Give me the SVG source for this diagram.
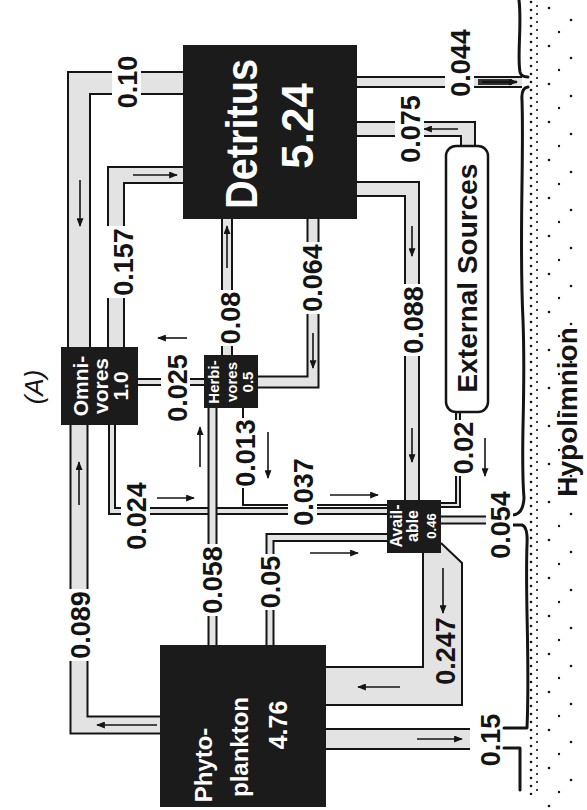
<svg xmlns="http://www.w3.org/2000/svg" width="587" height="810" viewBox="0 0 587 810">
<defs>
<style>
.po{fill:none;stroke:#141414;stroke-linejoin:miter;stroke-linecap:butt}
.pi{fill:none;stroke:#e3e3e3;stroke-linejoin:miter;stroke-linecap:butt}
.ln{fill:none;stroke:#141414;stroke-width:2}
.ar{fill:none;stroke:#141414;stroke-width:1.6;marker-end:url(#ah)}
.bg{fill:#fff}
.lbl{font-family:"Liberation Sans",Arial,sans-serif;font-weight:bold;font-size:27px;fill:#141414;text-anchor:middle}
.box{fill:#1b1b1b}
.nt{font-family:"Liberation Sans",Arial,sans-serif;font-weight:bold;fill:#fff;text-anchor:middle}
.bd{fill:none;stroke:#141414;stroke-width:3;stroke-linecap:round;stroke-linejoin:round}
</style>
<marker id="ah" viewBox="0 0 10 8" refX="9" refY="4" markerWidth="9" markerHeight="7" markerUnits="userSpaceOnUse" orient="auto"><path d="M0,0 L10,4 L0,8 z" fill="#141414"/></marker>
<pattern id="dense" x="528" y="0" width="12" height="8" patternUnits="userSpaceOnUse"><circle cx="3" cy="2" r="1.3" fill="#141414"/><circle cx="9" cy="6" r="1.1" fill="#141414"/></pattern>
<pattern id="sparse" x="543" y="0" width="40" height="38" patternUnits="userSpaceOnUse"><circle cx="6" cy="8" r="1.3" fill="#141414"/><circle cx="28" cy="20" r="1.3" fill="#141414"/><circle cx="16" cy="32" r="1.2" fill="#141414"/></pattern>
</defs>
<rect width="587" height="810" fill="#fff"/>

<g id="hypolimnion">
<rect x="528" y="0" width="12" height="795" fill="url(#dense)"/>
<rect x="543" y="0" width="44" height="810" fill="url(#sparse)"/>
<path class="bd" d="M519,0 C522,25 517,55 520,72 Q521,77 528,77"/>
<path class="bd" d="M528,87 Q521,88 522,100 C524,160 519,240 523,320 C526,400 520,450 524,498 Q523,515 512,515"/>
<path class="bd" d="M512,525 L522,525 Q528,527 527,545 C525,600 530,660 527,728 L504,728"/>
<path class="bd" d="M504,748 L520,748 L520,790"/>
<text class="lbl" style="font-size:28px" transform="translate(577,412) rotate(-90)">Hypolimnion</text>
</g>

<g id="connectors">
<!-- 0.10 Detritus -> Omnivores -->
<path class="po" stroke-width="24" d="M183,83 H79 V347"/>
<path class="pi" stroke-width="20" d="M183,83 H79 V347"/>
<!-- 0.089 Phyto -> Omnivores -->
<path class="po" stroke-width="19" d="M160,725 H79 V425"/>
<path class="pi" stroke-width="15" d="M160,725 H79 V425"/>
<!-- 0.157 Omnivores -> Detritus -->
<path class="po" stroke-width="18" d="M116,347 V175 H183"/>
<path class="pi" stroke-width="14" d="M116,347 V175 H183"/>
<!-- 0.025 -->
<path class="po" stroke-width="8" d="M138,382 H204"/>
<path class="pi" stroke-width="4" d="M138,382 H204"/>
<!-- 0.08 -->
<path class="po" stroke-width="12" d="M227,355 V219"/>
<path class="pi" stroke-width="8" d="M227,355 V219"/>
<!-- 0.064 -->
<path class="po" stroke-width="13" d="M258,382 H313 V219"/>
<path class="pi" stroke-width="9" d="M258,382 H313 V219"/>
<!-- 0.088 -->
<path class="po" stroke-width="16" d="M357,189 H412 V500"/>
<path class="pi" stroke-width="12" d="M357,189 H412 V500"/>
<!-- 0.075 -->
<path class="po" stroke-width="16" d="M468,146 V129 H357"/>
<path class="pi" stroke-width="12" d="M468,146 V129 H357"/>
<!-- 0.044 -->
<path class="po" stroke-width="12" d="M357,82 H522"/>
<path class="pi" stroke-width="8" d="M357,82 H522"/>
<path d="M478,79 H512 V85 H478 Z" fill="#333"/>
<!-- 0.02 -->
<path class="po" stroke-width="6" d="M458,412 V505 H441"/>
<path class="pi" stroke-width="2" d="M458,412 V505 H441"/>
<!-- 0.054 -->
<path class="po" stroke-width="9" d="M441,520 H490"/>
<path class="pi" stroke-width="5" d="M441,520 H490"/>
<!-- 0.247 -->
<path d="M423,553 V667 H326 V705 H462 V563 L441,543 Z" fill="#e3e3e3"/>
<path class="ln" d="M423,553 V667 H326"/>
<path class="ln" d="M326,705 H462 V563 L441,543"/>
<!-- 0.15 -->
<path class="po" stroke-width="22" d="M326,739 H470"/>
<path class="pi" stroke-width="18" d="M326,739 H470"/>
<!-- 0.024 / 0.037 -->
<path class="po" stroke-width="8" d="M112,425 V511 H387"/>
<path class="pi" stroke-width="4" d="M112,425 V511 H387"/>
<!-- 0.013 -->
<path class="ln" d="M243,408 V505 H387"/>
<!-- 0.058 -->
<path class="po" stroke-width="10" d="M212.5,645 V408"/>
<path class="pi" stroke-width="6" d="M212.5,645 V408"/>
<!-- 0.05 -->
<path class="po" stroke-width="9" d="M270,645 V537.5 H387"/>
<path class="pi" stroke-width="5" d="M270,645 V537.5 H387"/>

<!-- arrows -->
<path class="ar" d="M80,180 V226"/>
<path class="ar" d="M133,175 H177"/>
<path class="ar" d="M79,505 V462"/>
<path class="ar" d="M157,725 H97"/>
<path class="ar" d="M187,338 H158"/>
<path class="ar" d="M227,268 V226"/>
<path class="ar" d="M313,333 V368"/>
<path class="ar" d="M412,226 V256"/>
<path class="ar" d="M412,428 V462"/>
<path class="ar" d="M458,129 H424"/>
<path class="ar" style="stroke-width:2.5" d="M482,82 H517"/>
<path class="ar" d="M485,438 V476"/>
<path class="ar" d="M268,432 V478"/>
<path class="ar" d="M200,467 V427"/>
<path class="ar" d="M157,498 H194"/>
<path class="ar" d="M330,495 H378"/>
<path class="ar" d="M310,553 H358"/>
<path class="ar" d="M443,568 V613"/>
<path class="ar" d="M400,687 H358"/>
<path class="ar" d="M417,739 H462"/>

<!-- labels -->
<rect class="bg" x="112" y="54" width="29" height="57"/>
<text class="lbl" transform="translate(137,82) rotate(-90)">0.10</text>
<rect class="bg" x="107" y="226" width="30" height="72"/>
<text class="lbl" transform="translate(133,262) rotate(-90)">0.157</text>
<rect class="bg" x="161" y="352" width="29" height="72"/>
<text class="lbl" transform="translate(187,388) rotate(-90)">0.025</text>
<rect class="bg" x="215" y="290" width="29" height="56"/>
<text class="lbl" transform="translate(240,318) rotate(-90)">0.08</text>
<rect class="bg" x="297" y="242" width="29" height="72"/>
<text class="lbl" transform="translate(322,278) rotate(-90)">0.064</text>
<rect class="bg" x="398" y="284" width="29" height="72"/>
<text class="lbl" transform="translate(423,320) rotate(-90)">0.088</text>
<rect class="bg" x="395" y="93" width="29" height="72"/>
<text class="lbl" transform="translate(420,129) rotate(-90)">0.075</text>
<rect class="bg" x="445" y="27" width="29" height="72"/>
<text class="lbl" transform="translate(470,63) rotate(-90)">0.044</text>
<rect class="bg" x="448" y="420" width="29" height="56"/>
<text class="lbl" transform="translate(473,448) rotate(-90)">0.02</text>
<rect class="bg" x="486" y="489" width="27" height="72"/>
<text class="lbl" transform="translate(510,525) rotate(-90)">0.054</text>
<rect class="bg" x="230" y="418" width="29" height="70"/>
<text class="lbl" transform="translate(255,453) rotate(-90)">0.013</text>
<rect class="bg" x="288" y="456" width="29" height="72"/>
<text class="lbl" transform="translate(313,492) rotate(-90)">0.037</text>
<rect class="bg" x="121" y="480" width="29" height="72"/>
<text class="lbl" transform="translate(146,516) rotate(-90)">0.024</text>
<rect class="bg" x="197" y="544" width="29" height="72"/>
<text class="lbl" transform="translate(222,580) rotate(-90)">0.058</text>
<rect class="bg" x="255" y="554" width="29" height="56"/>
<text class="lbl" transform="translate(280,582) rotate(-90)">0.05</text>
<rect class="bg" x="65" y="589" width="29" height="72"/>
<text class="lbl" transform="translate(90,625) rotate(-90)">0.089</text>
<text class="lbl" transform="translate(455,651) rotate(-90)">0.247</text>
<text class="lbl" transform="translate(500,740) rotate(-90)">0.15</text>
<text class="lbl" style="font-weight:normal;font-style:italic;font-size:26px" transform="translate(43,387) rotate(-90)">(A)</text>
</g>

<g id="detritus">
<rect class="box" x="183" y="45" width="174" height="174"/>
<text class="nt" style="font-size:44px" textLength="150" lengthAdjust="spacingAndGlyphs" transform="translate(257,134) rotate(-90)">Detritus</text>
<text class="nt" style="font-size:44px" transform="translate(313,126) rotate(-90)">5.24</text>
</g>

<g id="omnivores">
<rect class="box" x="61" y="347" width="77" height="78"/>
<text class="nt" style="font-size:21px" transform="translate(88,386) rotate(-90)">Omni-</text>
<text class="nt" style="font-size:21px" transform="translate(108,386) rotate(-90)">vores</text>
<text class="nt" style="font-size:21px" transform="translate(128,386) rotate(-90)">1.0</text>
</g>

<g id="herbivores">
<rect class="box" x="204" y="355" width="54" height="53"/>
<text class="nt" style="font-size:15px" transform="translate(219,382) rotate(-90)">Herbi-</text>
<text class="nt" style="font-size:15px" transform="translate(237,382) rotate(-90)">vores</text>
<text class="nt" style="font-size:15px" transform="translate(253,382) rotate(-90)">0.5</text>
</g>

<g id="available">
<rect class="box" x="387" y="500" width="54" height="53"/>
<text class="nt" style="font-size:16px" transform="translate(402,526) rotate(-90)">Avail-</text>
<text class="nt" style="font-size:16px" transform="translate(418,526) rotate(-90)">able</text>
<text class="nt" style="font-size:13px" transform="translate(436,526) rotate(-90)">0.46</text>
</g>

<g id="phytoplankton">
<rect class="box" x="160" y="645" width="166" height="162"/>
<text class="nt" style="font-size:24px" transform="translate(212,765) rotate(-90)">Phyto-</text>
<text class="nt" style="font-size:24px" transform="translate(248,747) rotate(-90)">plankton</text>
<text class="nt" style="font-size:25px" transform="translate(287,725) rotate(-90)">4.76</text>
</g>

<g id="external-sources">
<rect x="446" y="146" width="42" height="266" rx="10" fill="#fff" stroke="#141414" stroke-width="2.5"/>
<text class="lbl" style="font-size:28px" transform="translate(477,278) rotate(-90)">External Sources</text>
</g>
</svg>
